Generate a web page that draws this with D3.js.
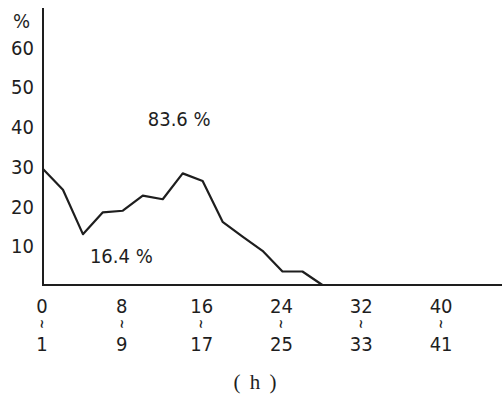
<!DOCTYPE html>
<html><head><meta charset="utf-8">
<script src="https://cdnjs.cloudflare.com/ajax/libs/d3/7.8.5/d3.min.js"></script>
<style>body{margin:0;background:#fff}svg{display:block}</style>
</head><body>
<script>
const xValues = [0,2,4,6,8,10,12,14,16,18,20,22,24,26,28,30,32,34,36,38,40];
const percent = [29.2,24.0,12.8,18.3,18.7,22.5,21.6,28.1,26.2,15.9,12.2,8.6,3.4,3.4,0,0,0,0,0,0,0];
const yTicks = [10,20,30,40,50,60];
const xTicksTop = ["0","8","16","24","32","40"];
const xTicksBottom = ["1","9","17","25","33","41"];
const xTickPos = [0,8,16,24,32,40];
const annotations = [{x:10.5,y:40,text:"83.6 %"},{x:4.7,y:5.6,text:"16.4 %"}];

const W=504,H=396;
const svg=d3.select("body").append("svg").attr("width",W).attr("height",H);
const x=d3.scaleLinear().domain([0,46]).range([43,502]);
const y=d3.scaleLinear().domain([0,70]).range([285,7]);
const ink="#1e1e1e";
const font="'DejaVu Sans Condensed', 'Liberation Sans', sans-serif";
const fs=20;

// axes lines
svg.append("line").attr("x1",x(0)).attr("x2",x(46)).attr("y1",y(0)).attr("y2",y(0)).attr("stroke",ink).attr("stroke-width",2);
svg.append("line").attr("x1",x(0)).attr("x2",x(0)).attr("y1",y(70)+1).attr("y2",y(0)+1).attr("stroke",ink).attr("stroke-width",2);

// y tick labels
svg.append("g").selectAll("text").data(yTicks).join("text")
  .attr("x",34).attr("y",d=>y(d)+8).attr("text-anchor","end")
  .attr("font-family",font).attr("font-size",fs).attr("fill",ink).text(d=>d);
svg.append("text").attr("x",13).attr("y",28).attr("font-family",font).attr("font-size",fs).attr("fill",ink).text("%");

// x tick labels
const gx=svg.append("g");
gx.selectAll("text.t").data(xTickPos).join("text").attr("class","t")
  .attr("x",d=>x(d)-1).attr("y",313).attr("text-anchor","middle")
  .attr("font-family",font).attr("font-size",fs).attr("fill",ink).text((d,i)=>xTicksTop[i]);
gx.selectAll("text.b").data(xTickPos).join("text").attr("class","b")
  .attr("x",d=>x(d)-1).attr("y",351).attr("text-anchor","middle")
  .attr("font-family",font).attr("font-size",fs).attr("fill",ink).text((d,i)=>xTicksBottom[i]);
gx.selectAll("text.s").data(xTickPos).join("text").attr("class","s")
  .attr("transform",d=>`translate(${x(d)-1},324) rotate(90)`).attr("text-anchor","middle").attr("dy","0.35em")
  .attr("font-family","'DejaVu Sans', sans-serif").attr("font-size",12).attr("font-weight","bold").attr("fill",ink).text("~");

// line
const line=d3.line().x(d=>x(d[0])).y(d=>y(d[1]));
svg.append("path").datum(xValues.map((v,i)=>[v,percent[i]]))
  .attr("d",line).attr("fill","none").attr("stroke",ink).attr("stroke-width",2.2).attr("stroke-linejoin","round");

// annotations
svg.append("g").selectAll("text").data(annotations).join("text")
  .attr("x",d=>x(d.x)).attr("y",d=>y(d.y)).attr("font-family",font).attr("font-size",fs).attr("fill",ink).text(d=>d.text);

svg.append("text").attr("x",256).attr("y",389).attr("text-anchor","middle")
  .attr("font-family","'Liberation Serif', serif").attr("font-size",21).attr("letter-spacing",2).attr("fill",ink).text("( h )");
</script>
</body></html>
